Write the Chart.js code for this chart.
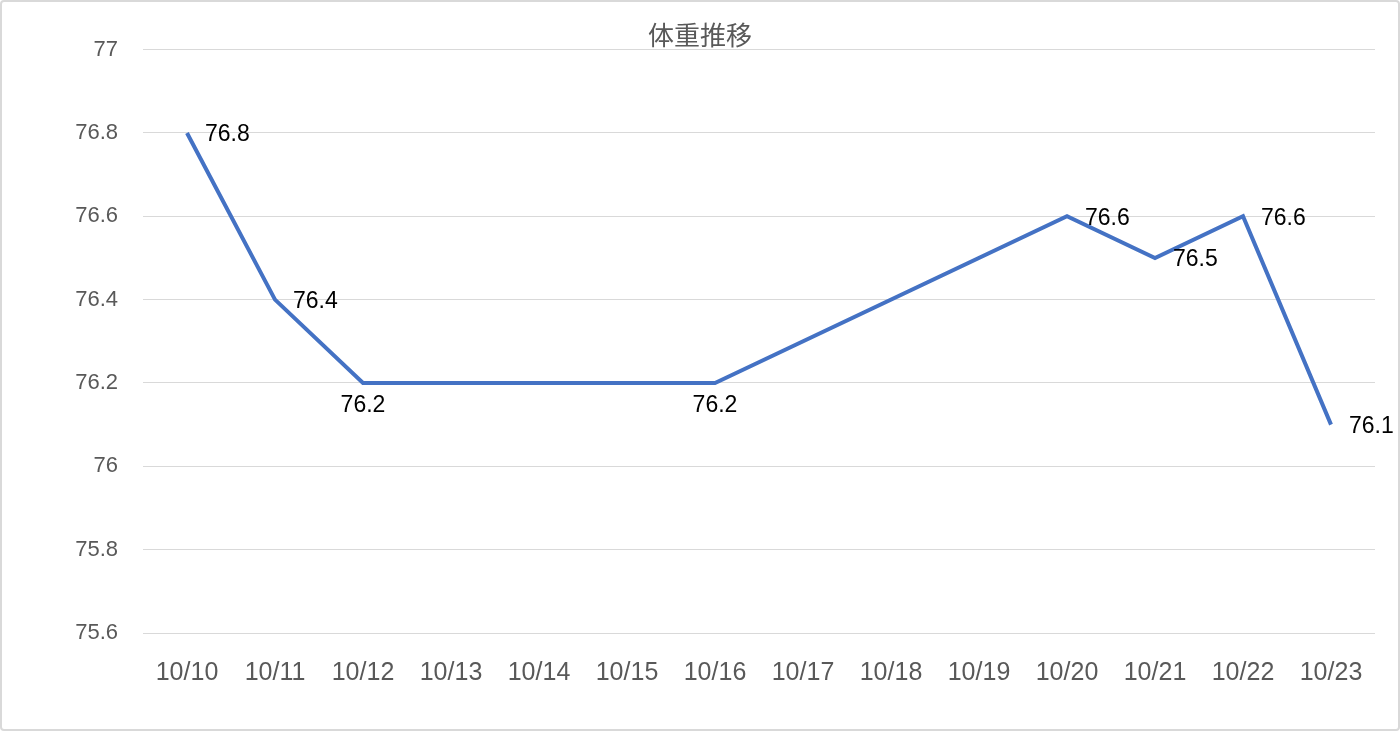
<!DOCTYPE html>
<html>
<head>
<meta charset="utf-8">
<script src="https://cdn.jsdelivr.net/npm/chart.js@4"></script>
<style>
  html, body { margin: 0; padding: 0; background: #fff; }
  #wrap {
    width: 1400px; height: 731px; box-sizing: border-box;
    border: 2px solid #d9d9d9; border-radius: 4px; background: #fff;
  }
  canvas { display: block; }
</style>
</head>
<body>
<div id="wrap"><canvas id="chart" width="1396" height="727"></canvas></div>
<script>
// DATA
const labels = ["10/10", "10/11", "10/12", "10/13", "10/14", "10/15", "10/16",
                "10/17", "10/18", "10/19", "10/20", "10/21", "10/22", "10/23"];
const weights = [76.8, 76.4, 76.2, null, null, null, 76.2,
                 null, null, null, 76.6, 76.5, 76.6, 76.1];
const title = "体重推移";

// where each value label sits relative to its point
const labelPos = ["right", "right", "below", null, null, null, "below",
                  null, null, null, "right", "right", "right", "right"];

const FONT = "'Liberation Sans', Arial, sans-serif";

// VALUE LABELS
const valueLabels = {
  id: "valueLabels",
  afterDatasetsDraw(chart) {
    const ctx = chart.ctx;
    const meta = chart.getDatasetMeta(0);
    ctx.save();
    ctx.font = "23px " + FONT;
    ctx.fillStyle = "#000";
    ctx.textBaseline = "middle";
    meta.data.forEach((pt, i) => {
      const v = weights[i];
      if (v === null) return;
      if (labelPos[i] === "below") {
        ctx.textAlign = "center";
        ctx.fillText(v.toFixed(1), pt.x, pt.y + 23);
      } else {
        ctx.textAlign = "left";
        ctx.fillText(v.toFixed(1), pt.x + 18, pt.y + 2);
      }
    });
    ctx.restore();
  }
};

new Chart(document.getElementById("chart"), {
  type: "line",
  data: {
    labels: labels,
    datasets: [{
      data: weights,
      borderColor: "#4472C4",
      borderWidth: 4,
      pointRadius: 0,
      spanGaps: true,
      tension: 0
    }]
  },
  options: {
    responsive: false,
    animation: false,
    layout: { padding: 0 },
    plugins: {
      legend: { display: false },
      tooltip: { enabled: false },
      title: {
        display: true,
        text: title,
        color: "#595959",
        font: { family: "'Noto Sans CJK JP', sans-serif", size: 26, weight: "normal", lineHeight: 1.1 },
        padding: { top: 19, bottom: 0 }
      }
    },
    scales: {
      x: {
        offset: true,
        grid: { display: false, drawTicks: false },
        border: { display: false },
        ticks: {
          color: "#595959",
          font: { family: FONT, size: 25 },
          padding: 25,
          maxRotation: 0,
          autoSkip: false
        },
        afterFit(scale) { scale.height = 96; }
      },
      y: {
        min: 75.6,
        max: 77,
        grid: { color: "#d9d9d9", lineWidth: 1, drawTicks: false },
        border: { display: false },
        ticks: {
          stepSize: 0.2,
          color: "#595959",
          font: { family: FONT, size: 22 },
          padding: 25,
          callback: v => String(+v.toFixed(1))
        },
        afterFit(scale) { scale.width = 141; }
      },
      // empty right-hand margin so the title stays centred on the whole chart
      yRight: {
        position: "right",
        min: 75.6,
        max: 77,
        grid: { display: false, drawTicks: false },
        border: { display: false },
        ticks: { display: false },
        afterFit(scale) { scale.width = 23; }
      }
    }
  },
  plugins: [valueLabels]
});
</script>
</body>
</html>
